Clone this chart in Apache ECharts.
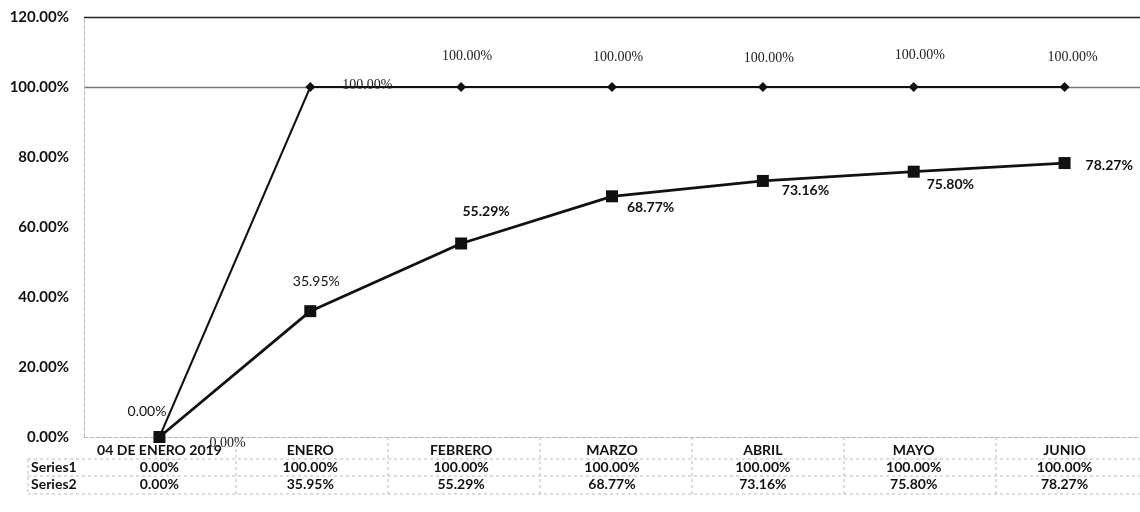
<!DOCTYPE html>
<html>
<head>
<meta charset="utf-8">
<script src="https://cdn.jsdelivr.net/npm/echarts@6/dist/echarts.min.js"></script>
<style>
  html, body { margin: 0; padding: 0; background: #fff; }
  #chart { width: 1140px; height: 512px; }
</style>
</head>
<body>
<div id="chart"></div>
<script>
// data
const categories = ['04 DE ENERO 2019', 'ENERO', 'FEBRERO', 'MARZO', 'ABRIL', 'MAYO', 'JUNIO']
const series1 = [0, 1, 1, 1, 1, 1, 1]
const series2 = [0, 0.3595, 0.5529, 0.6877, 0.7316, 0.7580, 0.7827]
const yTicks = [0, 0.2, 0.4, 0.6, 0.8, 1.0, 1.2]

const pct = v => (v * 100).toFixed(2) + '%'
const labelFont = 'Lato, "Open Sans", sans-serif'

// label placement per point (style only)
const s1Labels = [
  { position: 'right', offset: [40, 6] },
  { position: 'right', offset: [22, -2] },
  { position: 'top', offset: [6, -14] },
  { position: 'top', offset: [6, -13] },
  { position: 'top', offset: [6, -12] },
  { position: 'top', offset: [6, -15] },
  { position: 'top', offset: [8, -13] }
]
const s2Labels = [
  { position: 'left', offset: [18, -26], fontWeight: 'normal' },
  { position: 'top', offset: [6, -12], fontWeight: 'normal' },
  { position: 'top', offset: [25, -14], fontWeight: 'bold' },
  { position: 'right', offset: [4, 11], fontWeight: 'bold' },
  { position: 'right', offset: [8, 10], fontWeight: 'bold' },
  { position: 'right', offset: [2, 13], fontWeight: 'bold' },
  { position: 'right', offset: [10, 2], fontWeight: 'bold' }
]

const chart = echarts.init(document.getElementById('chart'))

const lineColor = '#111'
const tableLine = { type: 'dashed', color: '#bbb', width: 1 }

// table grid lines (decoration)
const graphics = []
const tableTop = 437, tableBottom = 494, left = 84, band = 152
;[459, 476, 494].forEach(y => {
  graphics.push({ type: 'line', shape: { x1: 28, y1: y, x2: 1140, y2: y }, style: { stroke: '#bbb', lineDash: [3, 3] } })
})
for (let k = 1; k < 7; k++) {
  graphics.push({ type: 'line', shape: { x1: left + band * k, y1: tableTop, x2: left + band * k, y2: tableBottom }, style: { stroke: '#bbb', lineDash: [3, 3] } })
}
graphics.push({ type: 'line', shape: { x1: 28, y1: 459, x2: 28, y2: tableBottom }, style: { stroke: '#bbb', lineDash: [3, 3] } })
graphics.push({ type: 'text', left: 31, top: 460, style: { text: 'Series1', font: 'bold 14px ' + labelFont, fill: '#111' } })
graphics.push({ type: 'text', left: 31, top: 477, style: { text: 'Series2', font: 'bold 14px ' + labelFont, fill: '#111' } })

chart.setOption({
  animation: false,
  backgroundColor: '#fff',
  grid: { left: left, top: 17, width: band * 7, bottom: 75 },
  xAxis: {
    type: 'category',
    data: categories,
    boundaryGap: true,
    axisLine: { show: true, lineStyle: tableLine },
    axisTick: { show: false },
    axisLabel: {
      interval: 0,
      margin: 5,
      lineHeight: 17,
      fontFamily: labelFont,
      fontWeight: 'bold',
      fontSize: 14,
      color: '#111',
      formatter: (val, i) => [val, pct(series1[i]), pct(series2[i])].join('\n')
    },
    splitLine: { show: false }
  },
  yAxis: {
    type: 'value',
    min: 0,
    max: 1.2,
    interval: 0.2,
    axisLine: { show: true, lineStyle: tableLine },
    axisTick: { show: false },
    axisLabel: {
      margin: 15,
      fontFamily: labelFont,
      fontWeight: 'bold',
      fontSize: 15,
      color: '#111',
      formatter: v => yTicks.includes(Math.round(v * 10) / 10) ? pct(v) : ''
    },
    splitLine: {
      show: true,
      lineStyle: { color: ['transparent', 'transparent', 'transparent', 'transparent', 'transparent', '#777', '#222'], width: 1.3 }
    }
  },
  graphic: graphics,
  series: [
    {
      name: 'Series1',
      type: 'line',
      symbol: 'diamond',
      symbolSize: 10,
      lineStyle: { color: lineColor, width: 2 },
      itemStyle: { color: lineColor },
      label: {
        show: true,
        formatter: p => pct(p.value),
        fontFamily: '"Liberation Serif", serif',
        fontSize: 14,
        color: '#222'
      },
      data: series1.map((v, i) => ({ value: v, label: s1Labels[i] })),
      z: 3
    },
    {
      name: 'Series2',
      type: 'line',
      symbol: 'rect',
      symbolSize: 12,
      lineStyle: { color: lineColor, width: 2.8 },
      itemStyle: { color: lineColor },
      label: {
        show: true,
        formatter: p => pct(p.value),
        fontFamily: labelFont,
        fontSize: 14,
        color: '#111'
      },
      data: series2.map((v, i) => ({ value: v, label: s2Labels[i] })),
      z: 4
    }
  ]
})
</script>
</body>
</html>
